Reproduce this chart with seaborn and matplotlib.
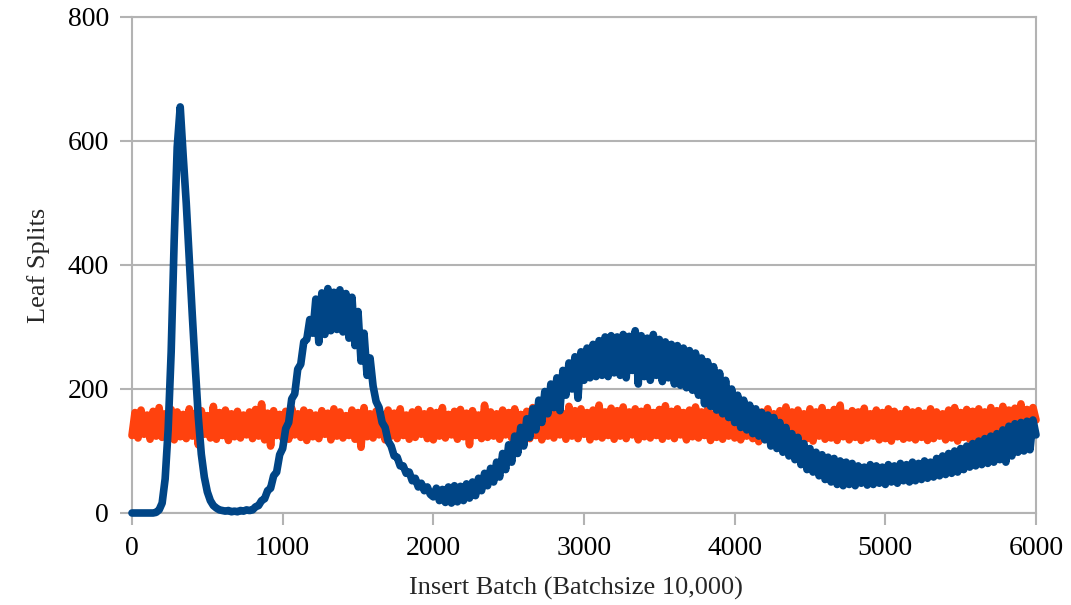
import numpy as np
import pandas as pd
import matplotlib
matplotlib.use("Agg")
import matplotlib.pyplot as plt
import seaborn as sns

batch_step = 20

orange_splits = [
    125, 162, 121, 166, 127, 158, 119, 164, 124, 170, 122, 160, 126, 167, 118, 163, 123, 159, 120, 168,
    124, 161, 110, 165, 127, 157, 121, 172, 119, 162, 125, 166, 117, 160, 123, 164, 121, 158, 126, 163,
    120, 167, 124, 176, 118, 161, 108, 165, 125, 159, 121, 164, 119, 169, 126, 160, 122, 166, 117, 162,
    123, 158, 120, 165, 127, 161, 118, 168, 124, 163, 121, 157, 125, 166, 119, 162, 106, 170, 123, 160,
    121, 164, 126, 159, 118, 166, 124, 161, 120, 168, 125, 158, 119, 163, 122, 167, 127, 160, 120, 165,
    118, 162, 124, 170, 121, 159, 126, 164, 119, 167, 123, 161, 110, 165, 125, 158, 120, 174, 122, 163,
    124, 160, 119, 166, 126, 162, 121, 168, 117, 159, 123, 164, 120, 170, 125, 161, 118, 165, 124, 167,
    121, 163, 126, 160, 119, 172, 124, 165, 120, 168, 127, 162, 118, 166, 123, 174, 121, 163, 125, 169,
    119, 165, 124, 171, 120, 163, 126, 168, 118, 164, 123, 170, 121, 162, 125, 167, 119, 173, 124, 164,
    120, 168, 126, 162, 118, 166, 123, 171, 121, 163, 125, 167, 117, 160, 122, 165, 119, 169, 124, 162,
    121, 164, 118, 170, 124, 161, 120, 166, 115, 163, 123, 168, 119, 160, 125, 165, 117, 171, 122, 163,
    118, 166, 123, 160, 120, 168, 116, 163, 124, 170, 119, 162, 121, 167, 117, 174, 123, 161, 118, 165,
    122, 163, 117, 169, 121, 160, 124, 166, 118, 162, 120, 168, 116, 164, 123, 160, 119, 167, 121, 163,
    118, 165, 122, 161, 117, 168, 120, 163, 124, 160, 118, 166, 121, 170, 116, 162, 122, 167, 119, 164,
    121, 168, 117, 163, 123, 170, 119, 165, 122, 172, 118, 166, 124, 169, 120, 176, 123, 167, 125, 170,
    150,
]

blue_splits = [
    0, 0, 0, 0, 0, 0, 0, 0, 1, 5, 16, 55, 135, 260, 440, 590, 655, 575, 500, 410,
    320, 235, 155, 95, 58, 34, 20, 12, 8, 5, 4, 3, 4, 2, 3, 2, 4, 3, 5, 4,
    5, 10, 12, 20, 23, 36, 40, 60, 66, 94, 104, 136, 146, 184, 192, 232, 240, 276, 280, 312,
    290, 345, 275, 355, 288, 362, 294, 356, 296, 360, 292, 354, 282, 348, 270, 325, 245, 290, 222, 250,
    205, 180, 170, 146, 138, 116, 108, 92, 90, 76, 76, 64, 66, 52, 56, 42, 48, 36, 42, 30,
    26, 40, 20, 38, 17, 42, 16, 44, 18, 43, 20, 47, 24, 50, 28, 56, 36, 64, 44, 72,
    50, 82, 58, 96, 70, 110, 82, 124, 96, 138, 108, 152, 122, 168, 134, 182, 146, 196, 160, 208,
    170, 218, 165, 230, 190, 242, 200, 252, 185, 260, 214, 266, 218, 272, 220, 278, 222, 284, 220, 286,
    226, 284, 222, 288, 218, 285, 230, 294, 208, 286, 220, 282, 214, 288, 222, 280, 212, 276, 218, 272,
    208, 270, 206, 266, 202, 262, 198, 258, 190, 250, 176, 244, 172, 236, 166, 226, 160, 214, 154, 200,
    146, 190, 138, 182, 134, 174, 128, 168, 124, 162, 118, 158, 108, 154, 104, 146, 98, 138, 92, 128,
    86, 122, 78, 112, 70, 104, 66, 98, 60, 94, 54, 90, 50, 88, 46, 84, 44, 82, 46, 80,
    44, 76, 48, 74, 45, 78, 46, 76, 48, 74, 46, 78, 50, 76, 48, 80, 52, 78, 50, 82,
    52, 80, 54, 84, 56, 82, 58, 88, 60, 92, 62, 96, 64, 100, 66, 104, 70, 108, 74, 112,
    76, 116, 78, 120, 80, 124, 82, 128, 86, 134, 82, 140, 92, 144, 98, 146, 100, 148, 102, 150,
    126,
]

x_ticks = [0, 1000, 2000, 3000, 4000, 5000, 6000]
y_ticks = [0, 200, 400, 600, 800]

orange = "#ff420e"
blue = "#004586"
grey = "#b3b3b3"

batches = np.arange(len(orange_splits)) * batch_step
df = pd.DataFrame({"batch": batches, "orange": orange_splits, "blue": blue_splits})

sns.set_style("white")
plt.rcParams["font.family"] = ["Liberation Serif", "DejaVu Serif"]

fig = plt.figure(figsize=(10.71, 6.05), dpi=100)
ax = fig.add_axes([132 / 1071, 1 - 513 / 605, (1036 - 132) / 1071, (513 - 17) / 605])

line_kw = dict(linewidth=5.5, solid_capstyle="round", solid_joinstyle="round", clip_on=False)
sns.lineplot(data=df, x="batch", y="orange", color=orange, ax=ax, zorder=3, **line_kw)
sns.lineplot(data=df, x="batch", y="blue", color=blue, ax=ax, zorder=4, **line_kw)

ax.set_xlim(0, 6000)
ax.set_ylim(0, 800)
ax.set_xticks(x_ticks)
ax.set_yticks(y_ticks)
ax.yaxis.grid(True, color=grey, linewidth=1.5)
ax.set_axisbelow(True)

for side in ["left", "bottom", "right", "top"]:
    ax.spines[side].set_visible(True)
    ax.spines[side].set_color(grey)
    ax.spines[side].set_linewidth(1.5)

ax.tick_params(axis="both", direction="out", length=8.5, width=1.5, color=grey,
               labelsize=20, labelcolor="black", pad=8)
ax.tick_params(axis="x", bottom=True)
ax.tick_params(axis="y", left=True)

ax.set_xlabel("Insert Batch (Batchsize 10,000)", fontsize=19)
ax.set_ylabel("Leaf Splits", fontsize=19, labelpad=13)
ax.xaxis.set_label_coords(0.491, -0.128)

fig.savefig("out.png", dpi=100)
